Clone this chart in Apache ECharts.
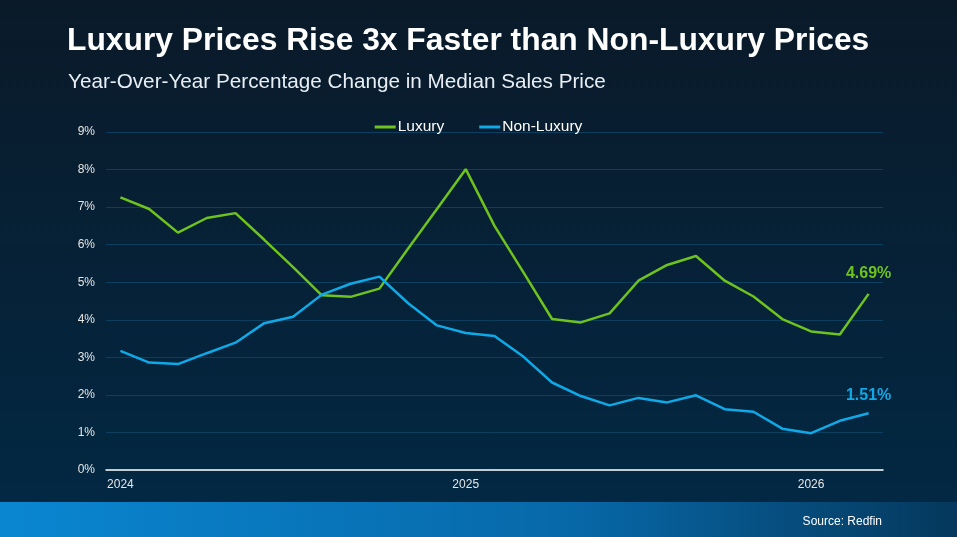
<!DOCTYPE html>
<html>
<head>
<meta charset="utf-8">
<script src="https://cdn.jsdelivr.net/npm/echarts@6/dist/echarts.min.js"></script>
<style>
html,body{margin:0;padding:0;background:#071b2b;}
#c{width:957px;height:537px;}
</style>
</head>
<body>
<div id="c"></div>
<script>
const categories = ['2024-01','2024-02','2024-03','2024-04','2024-05','2024-06','2024-07','2024-08','2024-09','2024-10','2024-11','2024-12',
  '2025-01','2025-02','2025-03','2025-04','2025-05','2025-06','2025-07','2025-08','2025-09','2025-10','2025-11','2025-12',
  '2026-01','2026-02','2026-03'];
const luxury = [7.26,6.95,6.32,6.71,6.84,6.13,5.40,4.65,4.61,4.83,5.90,6.95,
  8.01,6.50,5.27,4.02,3.93,4.17,5.04,5.46,5.70,5.04,4.62,4.02,3.69,3.61,4.69];
const nonLuxury = [3.17,2.86,2.82,3.11,3.39,3.91,4.08,4.67,4.96,5.15,4.44,3.85,
  3.65,3.57,3.02,2.33,1.97,1.72,1.92,1.80,1.99,1.62,1.55,1.10,0.98,1.31,1.51];
const yearLabels = {'2024-01':'2024','2025-01':'2025','2026-01':'2026'};
const yTicks = [0,1,2,3,4,5,6,7,8,9];

const chart = echarts.init(document.getElementById('c'));
const FONT = 'Liberation Sans, Arial, sans-serif';
const lastIdx = categories.length - 1;

function endLabel(color, dist) {
  return {
    show: true,
    position: 'top',
    distance: dist,
    offset: [7, 0],
    color: color,
    fontSize: 16,
    fontWeight: 'bold',
    fontFamily: FONT,
    formatter: p => p.dataIndex === lastIdx ? p.value.toFixed(2) + '%' : ''
  };
}

chart.setOption({
  backgroundColor: new echarts.graphic.LinearGradient(0, 0, 0, 1, [
    {offset: 0, color: '#0a1a29'},
    {offset: 1, color: '#022945'}
  ]),
  animation: false,
  graphic: [
    {
      type: 'rect',
      left: 0, top: 502,
      shape: {width: 957, height: 35},
      style: {
        fill: new echarts.graphic.LinearGradient(0, 0, 1, 0, [
          {offset: 0, color: '#0a86d1'},
          {offset: 0.6, color: '#0768a8'},
          {offset: 1, color: '#05385c'}
        ])
      },
      z: 0
    },
    {
      type: 'text',
      right: 75, top: 516,
      style: {text: 'Source: Redfin', fill: '#ffffff', fontSize: 12, fontFamily: FONT},
      z: 1
    }
  ],
  title: [
    {
      text: 'Luxury Prices Rise 3x Faster than Non-Luxury Prices',
      left: 62, top: 20,
      textStyle: {color: '#ffffff', fontSize: 31.8, fontWeight: 'bold', fontFamily: FONT}
    },
    {
      text: 'Year-Over-Year Percentage Change in Median Sales Price',
      left: 63, top: 67,
      textStyle: {color: '#e8eef3', fontSize: 20.7, fontWeight: 'normal', fontFamily: FONT}
    }
  ],
  legend: {
    top: 114,
    left: 'center',
    itemWidth: 21,
    itemHeight: 3,
    itemGap: 35,
    icon: 'rect',
    textStyle: {color: '#ffffff', fontSize: 15.5, fontFamily: FONT, padding: [0, 0, 0, -3]},
    data: ['Luxury', 'Non-Luxury']
  },
  grid: {left: 106, right: 74, top: 132, bottom: 67, containLabel: false},
  xAxis: {
    type: 'category',
    data: categories,
    boundaryGap: true,
    axisLine: {show: true, lineStyle: {color: '#ffffff', width: 1.5}},
    axisTick: {show: false},
    axisLabel: {
      interval: 0,
      margin: 9,
      color: '#e6e6e6',
      fontSize: 12,
      fontFamily: FONT,
      formatter: v => yearLabels[v] || ''
    },
    splitLine: {show: false}
  },
  yAxis: {
    type: 'value',
    min: yTicks[0],
    max: yTicks[yTicks.length - 1],
    interval: 1,
    axisLine: {show: false},
    axisTick: {show: false},
    axisLabel: {color: '#e6e6e6', fontSize: 12, fontFamily: FONT, margin: 11, formatter: v => v + '%'},
    splitLine: {lineStyle: {color: '#0c3e60', width: 1}}
  },
  series: [
    {
      name: 'Luxury',
      type: 'line',
      data: luxury,
      symbol: 'circle',
      symbolSize: 0,
      showSymbol: true,
      showAllSymbol: true,
      color: '#6fc31d',
      lineStyle: {width: 2.5, color: '#6fc31d'},
      label: endLabel('#6fc31d', 12),
      labelLayout: {hideOverlap: false},
      z: 3
    },
    {
      name: 'Non-Luxury',
      type: 'line',
      data: nonLuxury,
      symbol: 'circle',
      symbolSize: 0,
      showSymbol: true,
      showAllSymbol: true,
      color: '#0fa9e8',
      lineStyle: {width: 2.5, color: '#0fa9e8'},
      label: endLabel('#0fa9e8', 10),
      labelLayout: {hideOverlap: false},
      z: 4
    }
  ]
});
</script>
</body>
</html>
